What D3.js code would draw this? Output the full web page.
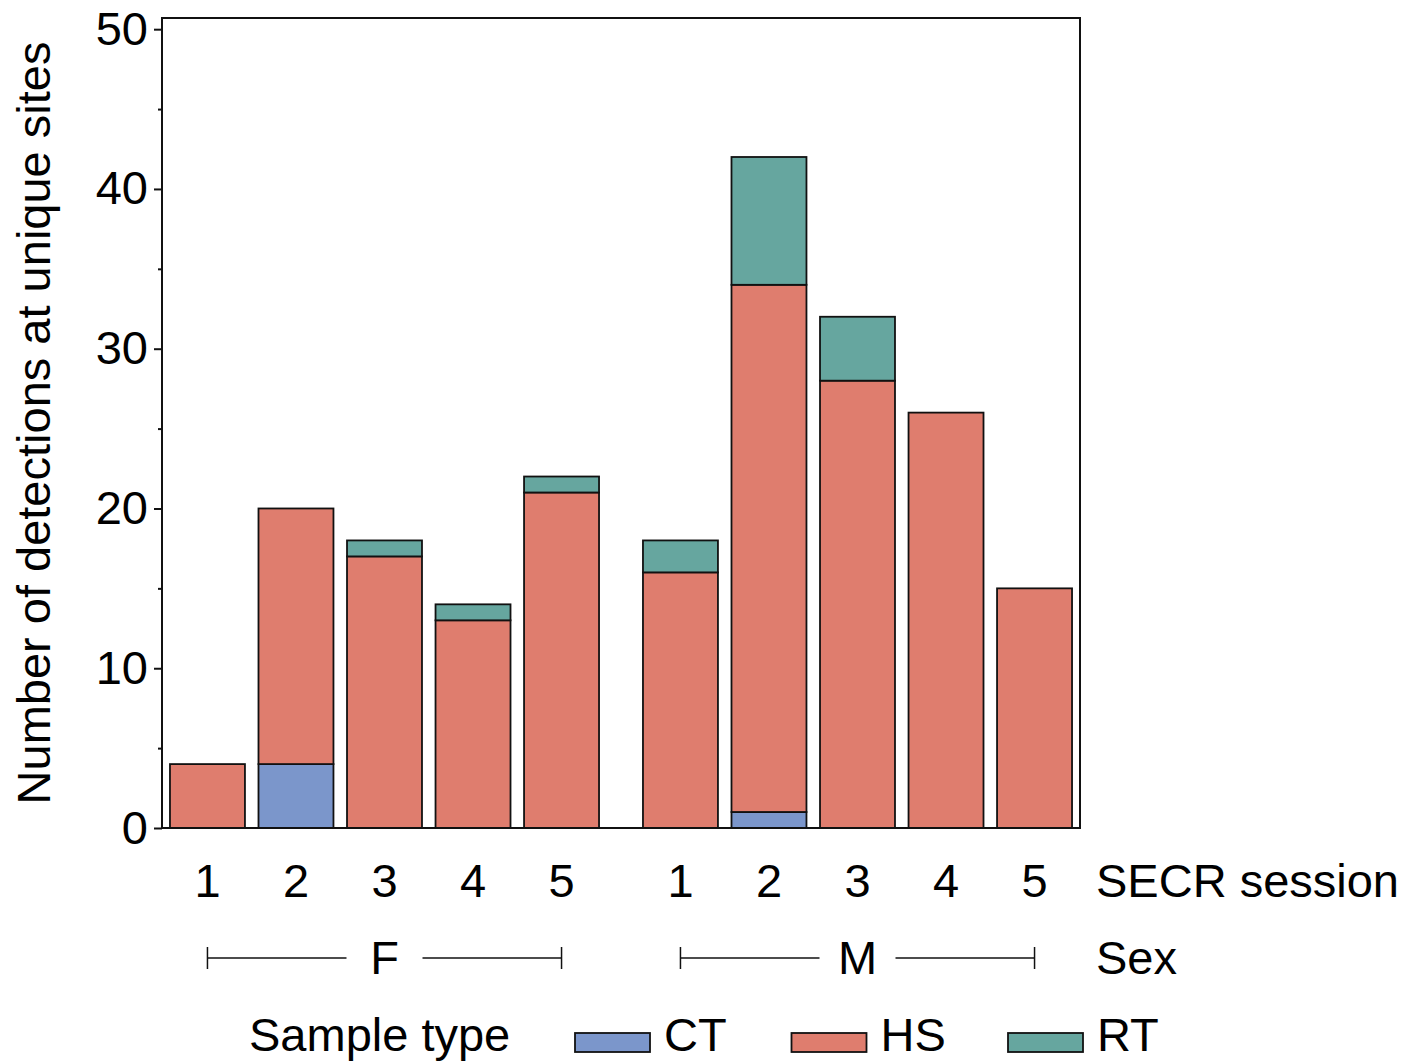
<!DOCTYPE html>
<html>
<head>
<meta charset="utf-8">
<script src="https://cdn.jsdelivr.net/npm/d3@7"></script>
<style>
  body { margin: 0; background: #fff; }
  svg text { font-family: "Liberation Sans", Arial, sans-serif; fill: #000; }
</style>
</head>
<body>
<svg class="chart"></svg>
<script>
const width = 1408;
const height = 1061;

// data
const sexes = ['F', 'M'];
const sessions = ['1', '2', '3', '4', '5'];
const sampleTypes = ['CT', 'HS', 'RT'];
const ctCounts = [0, 4, 0, 0, 0, 0, 1, 0, 0, 0];
const hsCounts = [4, 16, 17, 13, 21, 16, 33, 28, 26, 15];
const rtCounts = [0, 0, 1, 1, 1, 2, 8, 4, 0, 0];
const yTicks = [0, 10, 20, 30, 40, 50];
const yMinorTicks = [5, 15, 25, 35, 45];
const colors = ['#7b96cb', '#df7d6e', '#66a69f'];

const plot = { left: 162, right: 1080, top: 18, bottom: 828 };

const rows = [];
sexes.forEach((sex, si) => {
    sessions.forEach((s, j) => {
        const i = si * sessions.length + j;
        rows.push({ sex, session: s, CT: ctCounts[i], HS: hsCounts[i], RT: rtCounts[i] });
    });
});

const chart = d3.select('.chart')
    .attr('width', width)
    .attr('height', height);

const xOuter = d3.scaleBand()
    .domain(sexes)
    .range([plot.left, plot.right])
    .paddingInner(0.0592);

const xInner = d3.scaleBand()
    .domain(sessions)
    .range([0, xOuter.bandwidth()])
    .paddingInner(0.153)
    .paddingOuter(0.09);

const yScale = d3.scaleLinear()
    .domain([0, 50.7])
    .range([plot.bottom, plot.top]);

const color = d3.scaleOrdinal().domain(sampleTypes).range(colors);

const xPos = d => xOuter(d.sex) + xInner(d.session);
const xMid = d => xPos(d) + xInner.bandwidth() / 2;

/*----- BARS ------*/
const stacked = d3.stack().keys(sampleTypes)(rows);

chart.append('g')
    .selectAll('g')
    .data(stacked)
    .enter()
    .append('g')
    .attr('fill', d => color(d.key))
    .selectAll('rect')
    .data(d => d.filter(p => p[1] > p[0]))
    .enter()
    .append('rect')
    .attr('x', p => xPos(p.data))
    .attr('y', p => yScale(p[1]))
    .attr('width', xInner.bandwidth())
    .attr('height', p => yScale(p[0]) - yScale(p[1]))
    .attr('stroke', '#111')
    .attr('stroke-width', 1.8);

/*----- FRAME + AXES ------*/
chart.append('rect')
    .attr('x', plot.left)
    .attr('y', plot.top)
    .attr('width', plot.right - plot.left)
    .attr('height', plot.bottom - plot.top)
    .attr('fill', 'none')
    .attr('stroke', '#111')
    .attr('stroke-width', 2);

const yAxis = d3.axisLeft(yScale)
    .tickValues(yTicks)
    .tickSize(8)
    .tickPadding(6);

const yAxisG = chart.append('g')
    .attr('id', 'y-axis')
    .attr('transform', `translate(${plot.left}, 0)`)
    .call(yAxis);
yAxisG.select('.domain').remove();
yAxisG.selectAll('line').attr('stroke', '#111').attr('stroke-width', 2);
yAxisG.selectAll('text')
    .style('font-size', '47px')
    .style('font-family', '"Liberation Sans", Arial, sans-serif');

const yMinor = chart.append('g')
    .attr('transform', `translate(${plot.left}, 0)`)
    .call(d3.axisLeft(yScale).tickValues(yMinorTicks).tickSize(4).tickFormat(''));
yMinor.select('.domain').remove();
yMinor.selectAll('line').attr('stroke', '#111').attr('stroke-width', 2);

chart.append('text')
    .attr('transform', `translate(50, ${(plot.top + plot.bottom) / 2}) rotate(-90)`)
    .attr('text-anchor', 'middle')
    .style('font-size', '47px')
    .text('Number of detections at unique sites');

/*----- SESSION LABELS ------*/
chart.append('g')
    .selectAll('text')
    .data(rows)
    .enter()
    .append('text')
    .attr('x', d => xMid(d))
    .attr('y', 897)
    .attr('text-anchor', 'middle')
    .style('font-size', '47px')
    .text(d => d.session);

chart.append('text')
    .attr('x', 1096)
    .attr('y', 897)
    .style('font-size', '47px')
    .text('SECR session');

/*----- SEX BRACKETS ------*/
const lineY = 958;
const bracket = chart.append('g')
    .selectAll('g')
    .data(sexes)
    .enter()
    .append('g');

bracket.each(function (sex) {
    const g = d3.select(this);
    const x0 = xOuter(sex) + xInner(sessions[0]) + xInner.bandwidth() / 2;
    const x1 = xOuter(sex) + xInner(sessions[sessions.length - 1]) + xInner.bandwidth() / 2;
    const cx = (x0 + x1) / 2;
    const gap = 38;
    [[x0, cx - gap], [cx + gap, x1]].forEach(([a, b]) => {
        g.append('line')
            .attr('x1', a).attr('x2', b)
            .attr('y1', lineY).attr('y2', lineY)
            .attr('stroke', '#111').attr('stroke-width', 1.5);
    });
    [x0, x1].forEach(x => {
        g.append('line')
            .attr('x1', x).attr('x2', x)
            .attr('y1', lineY - 11).attr('y2', lineY + 11)
            .attr('stroke', '#111').attr('stroke-width', 1.5);
    });
    g.append('text')
        .attr('x', cx)
        .attr('y', 974)
        .attr('text-anchor', 'middle')
        .style('font-size', '47px')
        .text(sex);
});

chart.append('text')
    .attr('x', 1096)
    .attr('y', 974)
    .style('font-size', '47px')
    .text('Sex');

/*----- LEGEND ------*/
chart.append('text')
    .attr('x', 249)
    .attr('y', 1051)
    .style('font-size', '47px')
    .text('Sample type');

const legend = chart.append('g')
    .selectAll('g')
    .data(sampleTypes)
    .enter()
    .append('g')
    .attr('transform', (d, i) => `translate(${575 + i * 216.5}, 1033)`);

legend.append('rect')
    .attr('width', 75)
    .attr('height', 19)
    .attr('fill', d => color(d))
    .attr('stroke', '#111')
    .attr('stroke-width', 1.8);

legend.append('text')
    .attr('x', 89)
    .attr('y', 18)
    .style('font-size', '47px')
    .text(d => d);
</script>
</body>
</html>
